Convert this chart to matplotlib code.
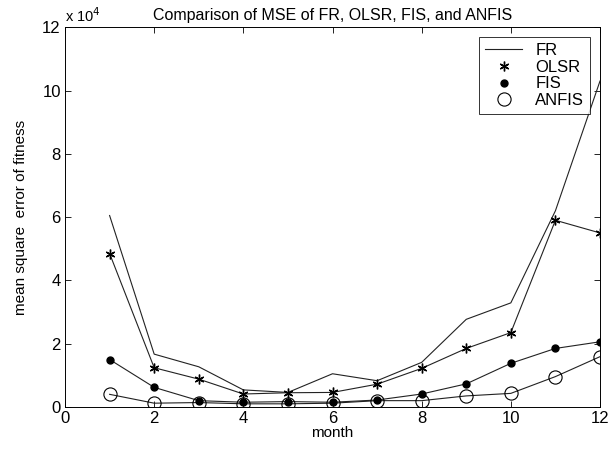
import matplotlib
matplotlib.use("Agg")
import matplotlib.pyplot as plt

plt.rcParams['font.family'] = ['Liberation Sans', 'DejaVu Sans']

# values in units of 1e4
month = [1, 2, 3, 4, 5, 6, 7, 8, 9, 10, 11, 12]
fr = [6.05, 1.67, 1.27, 0.54, 0.46, 1.05, 0.83, 1.41, 2.77, 3.29, 6.2, 10.3]
olsr = [4.85, 1.24, 0.88, 0.41, 0.45, 0.46, 0.72, 1.22, 1.85, 2.35, 5.9, 5.5]
fis = [1.5, 0.62, 0.2, 0.15, 0.17, 0.15, 0.22, 0.41, 0.73, 1.38, 1.85, 2.06]
anfis = [0.4, 0.12, 0.14, 0.1, 0.1, 0.12, 0.2, 0.2, 0.35, 0.43, 0.96, 1.59]

fig = plt.figure(figsize=(6.1, 4.51), dpi=100)
ax = fig.add_axes([0.1066, 0.0976, 0.877, 0.842])

lc = '#222222'
ax.plot(month, fr, '-', color=lc, lw=0.8, label='FR')
ax.plot(month, olsr, '-', color=lc, lw=0.8)
ax.plot(month, fis, '-', color=lc, lw=0.8)
ax.plot(month, anfis, '-', color=lc, lw=0.8)
ax.plot(month, olsr, marker=(6, 2, 0), color='black', mew=1.0, ms=7, ls='none', label='OLSR')
ax.plot(month, fis, 'o', color='black', ms=5, ls='none', label='FIS')
ax.plot(month, anfis, 'o', mfc='none', mec='black', mew=0.8, ms=9.5, ls='none', label='ANFIS')

ax.set_xlim(0, 12)
ax.set_ylim(0, 12)
ax.set_xticks(range(0, 13, 2))
ax.set_yticks(range(0, 13, 2))
ax.tick_params(direction='in', top=True, right=True, labelsize=12, length=4, width=0.6, pad=3)
for s in ax.spines.values():
    s.set_linewidth(0.7)

ax.text(0.0, 1.006, r'x 10$^4$', transform=ax.transAxes, fontsize=10.5, ha='left', va='bottom')
ax.set_title('Comparison of MSE of FR, OLSR, FIS, and ANFIS', fontsize=11.5, pad=5)
ax.set_xlabel('month', fontsize=11, labelpad=0)
ax.set_ylabel('mean square  error of fitness', fontsize=11, labelpad=10)

leg = ax.legend(loc='upper right', fontsize=12, frameon=True, fancybox=False,
                edgecolor='black', handlelength=2.2, borderpad=0.35, labelspacing=0.1,
                borderaxespad=0.6)
leg.get_frame().set_linewidth(0.7)

fig.savefig('out.png', dpi=100)
